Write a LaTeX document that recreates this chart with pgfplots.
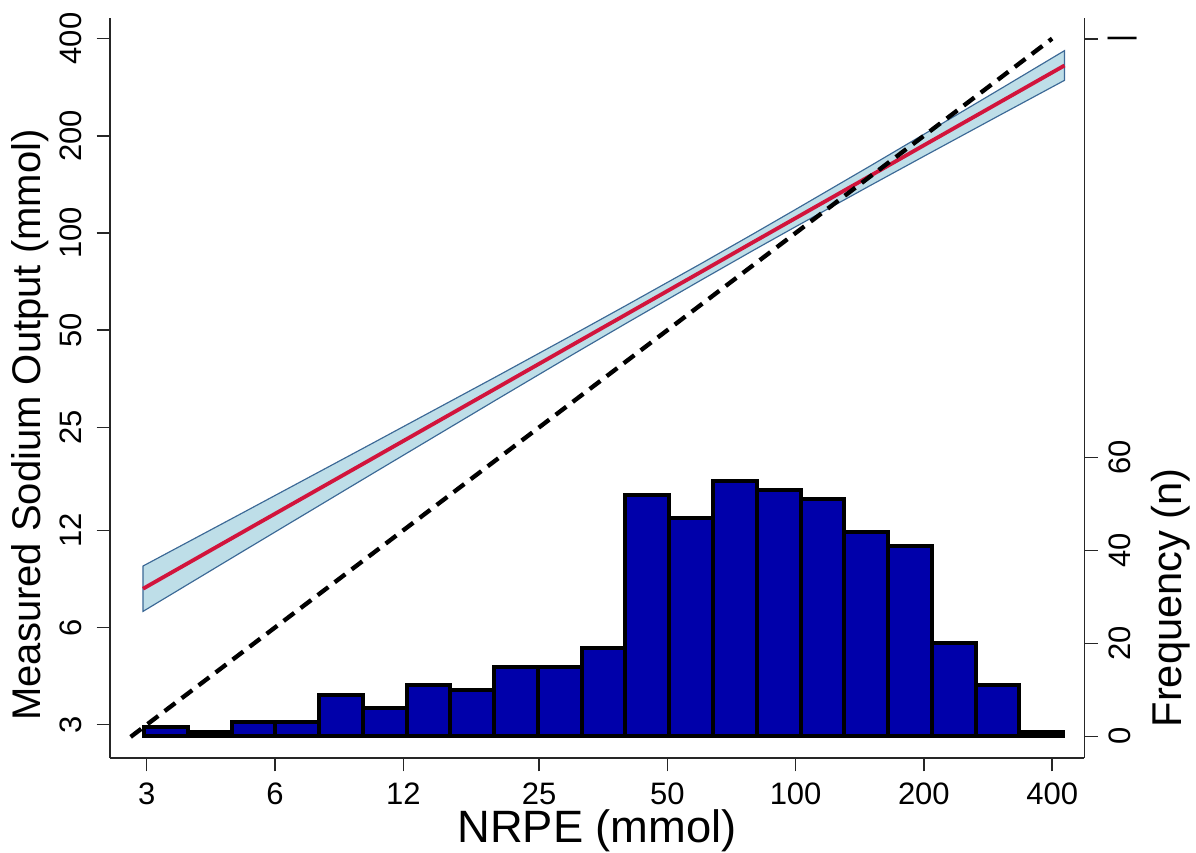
\documentclass[border=0pt]{standalone}
\usepackage{fontspec}
\setmainfont{Liberation Sans}
\usepackage{pgfplots}
\pgfplotsset{compat=1.18}

\definecolor{barblue}{RGB}{0,0,170}
\definecolor{bandfill}{RGB}{190,222,232}
\definecolor{bandline}{RGB}{60,105,150}
\definecolor{fitred}{RGB}{210,20,60}

\pgfplotsset{
  every axis/.append style={
    tick align=outside, major tick length=4pt,
    axis line style={line width=0.45pt, black!85},
    tick style={line width=0.45pt, black!85},
    ticklabel style={font=\fontsize{9.3}{11}\selectfont},
  },
}

\begin{document}
\begin{tikzpicture}
\path[use as bounding box] (-33pt,-28.5pt) rectangle (325.8pt,227.4pt);

% histogram of NRPE, frequency on the right
\begin{axis}[
  width=292.3pt, height=222pt, scale only axis,
  at={(0pt,0pt)}, anchor=south west,
  xmode=log, xmin=2.46, xmax=476,
  axis x line=none, xtick=\empty,
  axis y line*=right,
  ymin=-4.65, ymax=154.5,
  ytick={0,20,40,60,150}, yticklabels={0,20,40,60,|},
  yticklabel style={xshift=9.9pt, rotate=90, anchor=base, inner sep=0pt},
  ylabel={Frequency (n)},
  ylabel style={at={(rel axis cs:1,0.2165)}, anchor=center, yshift=-25.8pt,
                font=\fontsize{12.5}{14}\selectfont},
]
\addplot[ybar interval, fill=barblue, draw=black, line width=1.2pt] coordinates {
 (2.957,2) (3.746,1) (4.745,3) (6.011,3) (7.615,9) (9.647,6) (12.22,11)
 (15.48,10) (19.61,15) (24.85,15) (31.47,19) (39.87,52) (50.51,47)
 (63.98,55) (81.05,53) (102.7,51) (130.1,44) (164.8,41) (208.7,20)
 (264.4,11) (335.0,1) (424.4,1)};
\end{axis}

% measured vs NRPE, log-log
\begin{axis}[
  width=292.3pt, height=222pt, scale only axis,
  at={(0pt,0pt)}, anchor=south west,
  xmode=log, xmin=2.46, xmax=476,
  ymode=log, ymin=2.366, ymax=463.4,
  axis x line*=bottom, axis y line*=left,
  xtick={3,6,12,25,50,100,200,400}, xticklabels={3,6,12,25,50,100,200,400},
  ytick={3,6,12,25,50,100,200,400}, yticklabels={3,6,12,25,50,100,200,400},
  minor xtick={}, minor ytick={},
  xticklabel style={anchor=north, inner sep=0pt, yshift=-3.2pt},
  yticklabel style={xshift=-4.7pt, rotate=90, anchor=base, inner sep=0pt},
  xlabel={NRPE (mmol)},
  xlabel style={at={(rel axis cs:0.5,0)}, anchor=center, yshift=-21.8pt,
                font=\fontsize{13.6}{15}\selectfont},
  ylabel={Measured Sodium Output (mmol)},
  ylabel style={at={(rel axis cs:0,0.45)}, anchor=center, yshift=24pt,
                font=\fontsize{12}{14}\selectfont},
]
% confidence band
\addplot[fill=bandfill, draw=bandline, line width=0.35pt] coordinates {
 (2.94,9.30) (5,13.52) (10,22.07) (20,36.12) (30,48.37) (40,59.64) (60,80.39)
 (80,99.81) (100,118.3) (150,161.6) (200,202.1) (300,277.6) (427.6,367.1)
 (427.6,297.0) (300,230.9) (200,172.8) (150,140.5) (100,104.6) (80,88.72)
 (60,71.46) (40,52.49) (30,42.05) (20,30.63) (10,17.75) (5,10.26) (2.94,6.73)
} -- cycle;
% fitted line
\addplot[fitred, line width=1.15pt] coordinates {
 (2.94,7.91) (5,11.78) (10,19.79) (20,33.27) (30,45.1) (40,55.94) (60,75.8)
 (80,94.1) (100,111.2) (150,150.6) (200,186.9) (300,253.2) (427.6,330.2)};
% line of identity
\addplot[black, line width=1.3pt, dash pattern=on 4pt off 2.4pt] coordinates {
 (2.75,2.75) (400,400)};
\end{axis}
\end{tikzpicture}
\end{document}
